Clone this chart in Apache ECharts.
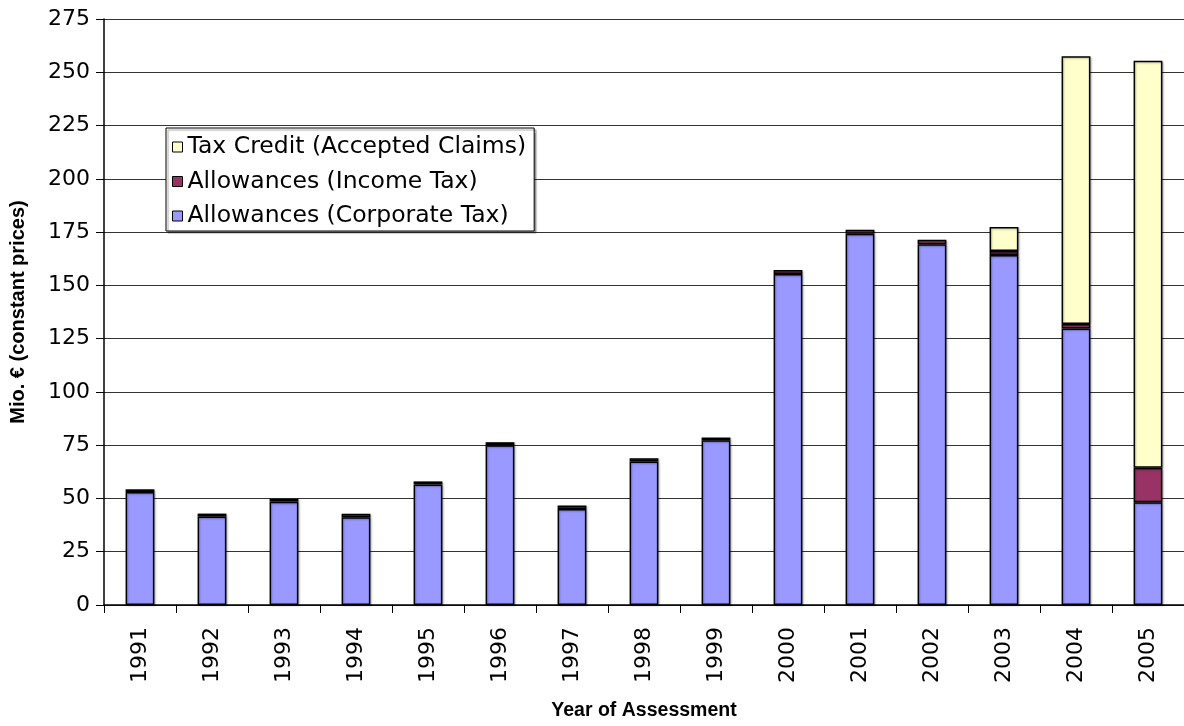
<!DOCTYPE html>
<html>
<head>
<meta charset="utf-8">
<script src="https://cdn.jsdelivr.net/npm/echarts@6/dist/echarts.min.js"></script>
<style>
  html, body { margin: 0; padding: 0; background: #fff; overflow: hidden; }
  #chart { width: 1184px; height: 726px; }
</style>
</head>
<body>
<div id="chart"></div>
<script>
// Years of assessment
const years = ['1991','1992','1993','1994','1995','1996','1997','1998','1999','2000','2001','2002','2003','2004','2005'];
// Allowances under corporate tax (Mio. €, constant prices)
const corporateTax = [53.0, 41.5, 48.5, 41.2, 56.6, 75.0, 45.1, 67.4, 77.3, 155.3, 174.2, 169.3, 164.2, 129.7, 48.2];
// Allowances under income tax
const incomeTax = [1.3, 1.4, 1.4, 1.6, 1.4, 1.4, 1.6, 1.5, 1.3, 1.9, 1.9, 2.1, 1.9, 2.2, 16.2];
// Tax credit for accepted claims
const taxCredit = [0, 0, 0, 0, 0, 0, 0, 0, 0, 0, 0, 0, 11.3, 125.6, 191.0];

const FONT = 'DejaVu Sans';

const barStyle = (color) => ({
  color: color,
  borderColor: '#000',
  borderWidth: 1.5,
  shadowColor: 'rgba(0,0,0,0.25)',
  shadowBlur: 2,
  shadowOffsetX: 1,
  shadowOffsetY: 1
});

const chart = echarts.init(document.getElementById('chart'), null, { renderer: 'canvas' });

chart.setOption({
  animation: false,
  backgroundColor: '#fff',
  grid: { left: 104, right: 0, top: 19, bottom: 115, containLabel: false },
  legend: {
    data: ['Tax Credit (Accepted Claims)', 'Allowances (Income Tax)', 'Allowances (Corporate Tax)'],
    orient: 'vertical',
    left: 166,
    top: 128,
    padding: [6, 8, 2, 6],
    itemGap: 8.5,
    itemWidth: 10,
    itemHeight: 10,
    icon: 'rect',
    backgroundColor: '#fff',
    borderColor: '#000',
    borderWidth: 1,
    shadowColor: 'rgba(0,0,0,0.35)',
    shadowOffsetX: 2,
    shadowOffsetY: 2,
    shadowBlur: 1,
    itemStyle: { borderColor: '#000', borderWidth: 1 },
    textStyle: { fontFamily: FONT, fontSize: 23.5, color: '#000', lineHeight: 26 }
  },
  xAxis: {
    type: 'category',
    data: years,
    name: 'Year of Assessment',
    nameLocation: 'middle',
    nameGap: 96,
    nameTextStyle: { fontFamily: 'Liberation Sans', fontWeight: 'bold', fontSize: 19.5, color: '#000' },
    axisLine: { lineStyle: { color: '#000', width: 1.5 } },
    axisTick: { show: true, length: 8, alignWithLabel: false, lineStyle: { color: '#000', width: 1 } },
    axisLabel: { rotate: 90, margin: 22, fontFamily: FONT, fontSize: 22, color: '#000' },
    splitLine: { show: false }
  },
  yAxis: {
    type: 'value',
    min: 0,
    max: 275,
    interval: 25,
    name: 'Mio. € (constant prices)',
    nameLocation: 'middle',
    nameGap: 76,
    nameRotate: 90,
    nameTextStyle: { fontFamily: 'Liberation Sans', fontWeight: 'bold', fontSize: 20, color: '#000' },
    axisLine: { show: true, lineStyle: { color: '#000', width: 1.5 } },
    axisTick: { show: true, length: 8, inside: false, lineStyle: { color: '#000', width: 1 } },
    axisLabel: { margin: 14, fontFamily: FONT, fontSize: 22, color: '#000' },
    splitLine: { show: true, lineStyle: { color: '#333', width: 1 } }
  },
  series: [
    {
      name: 'Allowances (Corporate Tax)',
      type: 'bar',
      stack: 'total',
      barWidth: '40%',
      data: corporateTax,
      itemStyle: barStyle('#9999FF')
    },
    {
      name: 'Allowances (Income Tax)',
      type: 'bar',
      stack: 'total',
      barWidth: '40%',
      data: incomeTax,
      itemStyle: barStyle('#993366')
    },
    {
      name: 'Tax Credit (Accepted Claims)',
      type: 'bar',
      stack: 'total',
      barWidth: '40%',
      data: taxCredit.map(v => (v > 0 ? v : null)),
      itemStyle: barStyle('#FFFFCC')
    }
  ]
});
</script>
</body>
</html>
